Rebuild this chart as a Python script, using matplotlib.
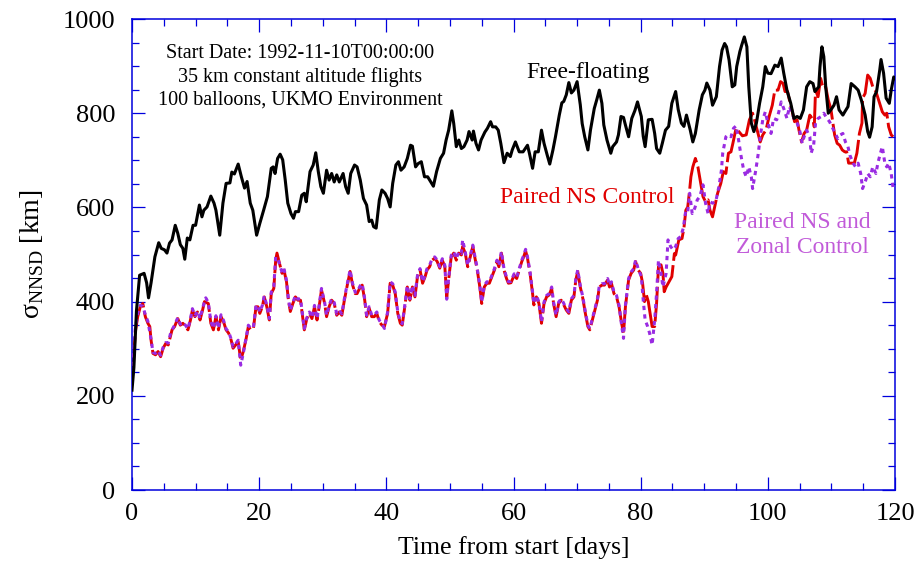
import numpy as np
import matplotlib
matplotlib.use('Agg')
import matplotlib.pyplot as plt
from matplotlib.ticker import MultipleLocator

# %% podaci (sigma NNSD u km, vreme u danima)

free_t = [0.0, 0.3, 0.7, 1.2, 1.9, 2.3, 2.6, 3.0, 3.6, 4.2, 4.6, 5.1, 5.5, 5.9, 6.3, 6.8, 7.2, 7.6, 8.0, 8.3,
          8.7, 9.1, 9.6, 10.0, 10.6, 11.0, 11.3, 11.8, 12.4, 12.9, 13.2, 13.8, 14.3, 14.8, 15.4, 15.7, 16.1, 16.7,
          17.2, 17.7, 18.1, 18.6, 19.0, 19.6, 20.1, 20.7, 21.3, 21.9, 22.2, 22.5, 22.9, 23.3, 23.7, 24.1, 24.5,
          25.0, 25.4, 25.7, 26.2, 26.7, 27.1, 27.4, 28.0, 28.5, 28.9, 29.3, 29.7, 30.1, 30.6, 31.0, 31.4, 31.8,
          32.2, 32.6, 33.2, 33.6, 34.0, 34.4, 35.0, 35.4, 35.9, 36.4, 36.9, 37.3, 37.7, 38.0, 38.4, 38.9, 39.3,
          39.8, 40.2, 40.6, 41.0, 41.5, 41.9, 42.3, 42.8, 43.3, 43.8, 44.1, 44.6, 45.0, 45.5, 46.0, 46.5, 47.0,
          47.4, 47.9, 48.5, 49.0, 49.4, 49.8, 50.3, 50.6, 51.0, 51.4, 51.8, 52.2, 52.7, 53.0, 53.5, 53.7, 54.1,
          54.5, 54.9, 55.5, 55.9, 56.4, 56.7, 57.2, 57.6, 58.0, 58.5, 59.0, 59.5, 59.8, 60.3, 60.9, 61.5, 62.2,
          62.5, 63.0, 63.4, 63.9, 64.4, 64.8, 65.3, 65.7, 66.2, 66.6, 67.2, 67.6, 67.9, 68.3, 68.7, 69.1, 69.5,
          70.0, 70.5, 70.8, 71.2, 71.7, 72.1, 72.7, 73.1, 73.5, 73.9, 74.2, 74.7, 75.3, 75.6, 76.2, 76.5, 76.9,
          77.3, 77.6, 78.1, 78.6, 79.1, 79.5, 80.1, 80.4, 80.7, 81.2, 81.8, 82.2, 82.5, 83.0, 83.4, 83.9, 84.4,
          84.9, 85.5, 85.9, 86.4, 86.8, 87.2, 87.8, 88.2, 88.6, 89.2, 89.7, 90.1, 90.4, 90.9, 91.3, 91.9, 92.4,
          92.8, 93.2, 93.5, 93.9, 94.4, 94.8, 95.1, 95.6, 95.9, 96.3, 96.7, 97.0, 97.4, 97.8, 98.2, 98.7, 99.2,
          99.6, 100.0, 100.5, 101.1, 101.6, 102.1, 102.5, 103.0, 103.6, 104.1, 104.6, 105.1, 105.6, 106.1,
          106.6, 107.1, 107.4, 108.0, 108.2, 108.5, 108.8, 109.1, 109.5, 109.9, 110.4, 110.8, 111.2, 111.8,
          112.1, 112.6, 113.1, 113.7, 114.2, 114.7, 115.3, 115.7, 116.0, 116.4, 116.7, 117.1, 117.6, 117.8,
          118.2, 118.6, 119.1, 119.4, 119.8, 120.0]
free_v = [212, 260, 380, 456, 460, 440, 408, 440, 495, 525, 513, 510, 503, 524, 531, 562, 545, 521, 513, 490,
          535, 531, 562, 562, 605, 580, 594, 601, 624, 609, 594, 541, 609, 651, 652, 675, 671, 692,
          665, 641, 655, 609, 594, 541, 566, 594, 623, 683, 686, 672, 704, 713, 701, 658, 609,
          587, 577, 591, 591, 626, 630, 612, 676, 690, 716, 676, 644, 630, 679, 658, 672, 654,
          669, 654, 672, 644, 630, 672, 690, 686, 658, 619, 605, 570, 573, 559, 556, 616, 637,
          630, 619, 601, 651, 690, 697, 679, 686, 704, 732, 730, 686, 693, 697, 665, 665, 654,
          645, 676, 704, 715, 743, 764, 805, 778, 729, 743, 725, 729, 743, 761, 743, 762, 736,
          722, 743, 760, 768, 782, 771, 771, 764, 736, 695, 715, 708, 722, 739, 718, 718, 732,
          715, 683, 718, 718, 764, 736, 711, 692, 722, 750, 796, 822, 825, 839, 865, 843, 849,
          867, 818, 778, 750, 722, 764, 810, 829, 849, 821, 775, 743, 715, 729, 739, 754, 793,
          791, 775, 750, 789, 806, 824, 793, 751, 729, 786, 787, 757, 725, 715, 736, 764, 772,
          821, 846, 808, 779, 772, 796, 764, 739, 757, 807, 839, 849, 864, 849, 817, 835, 899,
          934, 948, 941, 913, 856, 860, 899, 931, 945, 962, 941, 856, 779, 761, 779, 821, 856,
          899, 885, 884, 902, 899, 917, 885, 849, 821, 789, 793, 789, 807, 856,
          867, 863, 846, 856, 899, 941, 920, 856, 800, 807, 817, 835, 807, 796,
          803, 814, 863, 856, 849, 828, 796, 761, 749, 771, 835, 846, 892, 914,
          885, 832, 821, 849, 877, 874]

ns_t = [0.0, 0.2, 0.5, 0.9, 1.3, 1.7, 2.1, 2.5, 2.8, 3.0, 3.3, 3.7, 4.1, 4.5, 4.9, 5.3, 5.7, 6.1, 6.3, 6.7,
        7.2, 7.6, 8.0, 8.4, 8.8, 9.2, 9.5, 9.9, 10.3, 10.7, 11.1, 11.4, 12.0, 12.4, 12.8, 13.2, 13.6, 14.0,
        14.4, 14.8, 15.2, 15.6, 15.9, 16.3, 16.7, 17.1, 17.5, 17.9, 18.3, 18.7, 19.1, 19.5, 19.8, 20.1, 20.5,
        20.8, 21.2, 21.6, 21.9, 22.3, 22.6, 22.8, 23.2, 23.6, 23.9, 24.3, 24.6, 24.9, 25.3, 25.7, 26.1, 26.5,
        26.8, 27.1, 27.5, 27.9, 28.3, 28.7, 29.1, 29.4, 29.8, 30.3, 30.6, 31.0, 31.4, 31.8, 32.2, 32.6, 33.0,
        33.4, 33.8, 34.3, 34.7, 35.1, 35.4, 35.9, 36.2, 36.6, 36.9, 37.3, 37.7, 38.1, 38.5, 38.9, 39.3, 39.7,
        40.2, 40.6, 41.0, 41.4, 41.8, 42.2, 42.5, 42.9, 43.3, 43.7, 44.1, 44.5, 44.9, 45.3, 45.7, 46.1, 46.4,
        46.8, 47.2, 47.6, 48.0, 48.4, 48.8, 49.2, 49.5, 49.8, 50.2, 50.6, 51.0, 51.4, 51.8, 52.0, 52.4, 52.8,
        53.2, 53.6, 53.9, 54.3, 54.7, 55.0, 55.4, 55.8, 56.2, 56.6, 57.0, 57.4, 57.7, 58.1, 58.5, 58.9, 59.2,
        59.6, 60.1, 60.5, 60.9, 61.3, 61.6, 61.9, 62.2, 62.6, 63.0, 63.2, 63.6, 64.0, 64.4, 64.8, 65.2, 65.6,
        66.0, 66.3, 66.7, 67.1, 67.5, 67.8, 68.3, 68.7, 69.1, 69.5, 69.8, 70.1, 70.5, 70.9, 71.3, 71.7, 72.0,
        72.4, 72.8, 73.2, 73.5, 73.9, 74.3, 74.8, 75.1, 75.4, 75.8, 76.2, 76.6, 77.0, 77.3, 77.6, 78.1, 78.5,
        78.9, 79.2, 79.6, 80.0, 80.3, 80.6, 80.9, 81.2, 81.8, 82.2, 82.5, 82.8, 83.2, 83.5, 83.7, 84.0, 84.9,
        85.3, 85.5, 86.0, 86.5, 86.8, 87.1, 87.4, 87.7, 87.9, 88.2, 88.6, 89.0, 89.8, 90.2, 90.6, 90.9, 91.3,
        92.1, 92.6, 93.0, 93.4, 93.8, 94.2, 94.5, 95.0, 96.0, 96.6, 97.1, 97.6, 97.9, 98.8, 99.2, 99.7,
        100.2, 100.7, 101.1, 101.6, 102.0, 102.4, 102.7, 103.1, 103.5, 103.9, 104.2, 104.6, 104.9, 105.3,
        105.7, 106.1, 106.6, 107.1, 107.3, 107.5, 107.9, 108.3, 108.7, 109.1, 109.5, 109.9, 110.5, 110.9,
        111.3, 111.7, 112.1, 112.4, 112.7, 113.6, 114.0, 114.4, 114.8, 114.9, 115.3, 115.7, 116.1, 116.5,
        117.0, 118.0, 118.4, 118.7, 119.0, 119.4, 119.7]
ns_v = [250, 265, 333, 368, 389, 396, 368, 354, 347, 318, 290, 287, 294, 283, 301, 311, 308, 329, 340, 347,
        364, 350, 354, 347, 340, 361, 382, 368, 378, 361, 382, 400, 396, 354, 340, 368, 340, 368,
        357, 340, 333, 318, 301, 308, 315, 276, 294, 318, 347, 340, 343, 389, 389, 375, 389,
        410, 389, 361, 417, 428, 488, 503, 481, 460, 467, 442, 403, 379, 396, 410, 403, 403,
        371, 340, 364, 375, 364, 389, 361, 386, 425, 396, 368, 389, 403, 396, 371, 378, 371,
        403, 431, 464, 435, 417, 417, 431, 435, 403, 368, 386, 368, 368, 375, 357, 350, 347,
        375, 439, 435, 417, 375, 354, 350, 389, 431, 403, 431, 410, 453, 467, 439, 453, 467,
        474, 488, 492, 485, 471, 488, 474, 410, 446, 495, 503, 488, 503, 499, 517, 503, 474,
        495, 517, 495, 467, 431, 396, 431, 439, 439, 453, 467, 485, 474, 503, 467, 449, 439,
        440, 456, 449, 467, 485, 495, 508, 492, 460, 417, 393, 410, 396, 354, 396, 410, 414,
        428, 396, 368, 396, 403, 396, 382, 375, 403, 410, 446, 464, 431, 407, 375, 347, 340,
        361, 382, 403, 431, 435, 435, 446, 431, 439, 417, 410, 389, 354, 333, 389, 446, 460,
        467, 485, 467, 460, 439, 400, 414, 400, 347, 347, 396, 474, 478, 460, 421, 431, 453,
        502, 499, 531, 534, 556, 594, 601, 637, 665, 686, 704, 686, 623, 612, 616, 594, 580,
        630, 651, 676, 672, 715, 718, 736, 768, 752, 754, 786, 800, 786, 739, 754, 764,
        793, 817, 849, 849, 867, 863, 846, 846, 821, 800, 782, 786, 764, 739,
        757, 764, 796, 786, 771, 849, 835, 874, 853, 856, 828, 810, 754, 736,
        732, 722, 718, 718, 694, 694, 715, 757, 779, 832, 842, 881, 874, 856,
        846, 803, 796, 800, 771, 754, 750]

zonal_t = [0.0, 0.2, 0.5, 0.9, 1.3, 1.7, 2.1, 2.5, 3.0, 3.3, 3.7, 4.1, 4.5, 4.9, 5.3, 5.7, 6.1, 6.7,
           7.2, 7.6, 8.0, 8.4, 8.8, 9.2, 9.5, 9.9, 10.3, 10.7, 11.1, 11.6, 12.0, 12.4, 12.8, 13.2, 13.6, 14.0,
           14.4, 14.8, 15.2, 15.6, 15.9, 16.3, 16.7, 17.1, 17.5, 17.9, 18.3, 18.7, 19.1, 19.5, 19.8, 20.1, 20.5,
           20.8, 21.2, 21.6, 21.9, 22.3, 22.6, 23.0, 23.6, 23.9, 24.3, 24.6, 24.9, 25.3, 25.7, 26.1, 26.5,
           26.8, 27.1, 27.5, 27.9, 28.3, 28.7, 29.1, 29.4, 29.8, 30.3, 30.6, 31.0, 31.4, 31.8, 32.2, 32.6, 33.0,
           33.4, 33.8, 34.3, 34.7, 35.1, 35.4, 35.9, 36.2, 36.6, 36.9, 37.3, 37.7, 38.1, 38.5, 38.9, 39.3, 39.7,
           40.2, 40.6, 41.0, 41.4, 41.8, 42.2, 42.5, 42.9, 43.3, 43.7, 44.1, 44.5, 44.9, 45.3, 45.7, 46.1, 46.4,
           46.8, 47.2, 47.6, 48.0, 48.4, 48.8, 49.2, 49.5, 49.8, 50.2, 50.6, 51.0, 51.4, 51.8, 52.0, 52.4, 52.8,
           53.2, 53.6, 53.9, 54.3, 54.7, 55.0, 55.4, 55.8, 56.2, 56.6, 57.0, 57.4, 57.7, 58.1, 58.5, 58.9, 59.2,
           59.6, 60.1, 60.5, 60.9, 61.3, 61.6, 61.9, 62.2, 62.6, 63.0, 63.2, 63.6, 64.0, 64.4, 64.8, 65.2, 65.6,
           66.0, 66.3, 66.7, 67.1, 67.5, 67.8, 68.3, 68.7, 69.1, 69.5, 69.8, 70.1, 70.5, 70.9, 71.3, 71.7, 72.0,
           72.4, 72.8, 73.2, 73.5, 73.9, 74.3, 74.8, 75.1, 75.4, 75.8, 76.2, 76.6, 77.0, 77.3, 77.6, 78.1, 78.5,
           78.9, 79.2, 79.6, 80.1, 80.4, 80.7, 81.1, 81.4, 81.8, 82.2, 82.5, 82.8, 83.2, 83.5, 84.0, 84.3, 84.7,
           85.1, 85.5, 85.9, 86.3, 86.7, 87.1, 87.4, 87.7, 88.1, 88.5, 88.9, 89.3, 89.8, 90.2, 90.6, 90.9, 91.3,
           91.8, 92.3, 92.7, 92.9, 93.4, 93.7, 94.2, 94.6, 95.0, 95.4, 95.8, 96.2, 96.6, 97.0, 97.4, 97.6, 98.1,
           98.5, 98.8, 99.2, 99.6, 100.0, 100.5, 100.9, 101.4, 101.8, 102.1, 102.5, 103.0, 103.4, 103.8, 104.2,
           104.6, 105.0, 105.4, 105.7, 106.1, 106.6, 106.8, 107.2, 107.5, 107.9, 108.4, 108.8, 109.3, 109.7,
           110.2, 110.6, 111.0, 111.4, 111.8, 112.2, 112.6, 112.9, 113.4, 113.8, 114.2, 114.6, 114.9, 115.4,
           115.7, 116.1, 116.5, 117.0, 117.3, 117.7, 118.0, 118.4, 118.7, 119.0, 119.4, 119.7, 120.0]
zonal_v = [245, 275, 340, 375, 392, 390, 372, 358, 320, 292, 290, 296, 286, 303, 313, 312, 335, 350,
           366, 352, 356, 350, 342, 364, 385, 370, 380, 364, 386, 408, 398, 358, 343, 370, 343, 372,
           360, 342, 336, 320, 304, 310, 318, 265, 290, 320, 350, 343, 346, 392, 392, 378, 392,
           412, 392, 364, 420, 432, 495, 488, 462, 470, 445, 405, 382, 398, 413, 405, 406,
           374, 343, 366, 378, 366, 392, 364, 389, 428, 398, 371, 392, 406, 398, 374, 381, 374,
           406, 434, 467, 438, 420, 420, 434, 438, 406, 371, 389, 371, 371, 378, 360, 353, 343,
           378, 442, 438, 420, 378, 357, 353, 392, 434, 406, 434, 413, 456, 470, 442, 456, 470,
           477, 491, 495, 488, 474, 491, 477, 405, 449, 498, 506, 491, 506, 502, 531, 506, 477,
           498, 520, 498, 470, 434, 399, 434, 442, 442, 456, 470, 488, 477, 506, 470, 452, 442,
           443, 459, 452, 470, 488, 498, 511, 495, 463, 420, 396, 413, 399, 357, 399, 413, 417,
           431, 399, 371, 399, 406, 399, 385, 378, 406, 413, 449, 467, 434, 410, 378, 350, 343,
           364, 385, 406, 434, 438, 438, 449, 434, 442, 420, 413, 392, 350, 322, 392, 449, 463,
           470, 488, 470, 453, 403, 361, 347, 333, 308, 361, 418, 488, 460, 431, 460, 531, 517,
           510, 517, 534, 538, 556, 594, 591, 630, 587, 598, 616, 623, 648, 609, 587, 612, 609,
           612, 644, 679, 715, 750, 754, 750, 768, 773, 743, 708, 679, 665, 686, 665, 640, 679,
           715, 750, 786, 803, 779, 757, 789, 786, 807, 824, 810, 789, 814, 800, 786,
           779, 764, 736, 750, 764, 750, 715, 732, 779, 789, 793, 800, 789, 782,
           768, 757, 746, 754, 757, 739, 729, 711, 694, 686, 694, 672, 640, 658,
           672, 665, 686, 672, 694, 715, 729, 694, 686, 694, 672, 640, 640]

info_lines = ['Start Date: 1992-11-10T00:00:00',
              '35 km constant altitude flights',
              '100 balloons, UKMO Environment']

# %% stil

plt.rcParams['font.family'] = ['Liberation Serif', 'DejaVu Serif']
plt.rcParams['mathtext.fontset'] = 'custom'
plt.rcParams['mathtext.rm'] = 'Liberation Serif'

BLUE   = '#0000dd'
RED    = '#e00000'
VIOLET = '#9a2be2'
ORCHID = '#c15ad9'

# %% grafik

fig = plt.figure(figsize=(9.16, 5.76), dpi=100)
ax = fig.add_axes([0.1441, 0.1493, 0.8330, 0.8177])

ax.plot(ns_t, ns_v, color=RED, linewidth=2.1, linestyle=(0, (12, 1.5)), zorder=2)
ax.plot(zonal_t, zonal_v, color=VIOLET, linewidth=2.2, linestyle=(0, (1.4, 1.4)), zorder=3)
ax.plot(free_t, free_v, color='black', linewidth=2.2, zorder=4)

ax.set_xlim(0, 120)
ax.set_ylim(0, 1000)
ax.xaxis.set_major_locator(MultipleLocator(20))
ax.xaxis.set_minor_locator(MultipleLocator(5))
ax.yaxis.set_major_locator(MultipleLocator(200))
ax.yaxis.set_minor_locator(MultipleLocator(50))

for s in ax.spines.values():
    s.set_color(BLUE)
    s.set_linewidth(1.1)
ax.tick_params(which='both', direction='in', top=True, right=True, color=BLUE, width=0.9,
               labelsize=19, labelcolor='black')
ax.tick_params(which='major', length=9.5)
ax.tick_params(which='minor', length=4.8)
ax.tick_params(axis='x', which='major', pad=9)
ax.tick_params(axis='y', which='major', pad=12)

ax.set_xlabel('Time from start [days]', fontsize=18.5, labelpad=8)
ax.set_ylabel('σ$_{\\mathrm{NNSD}}$ [km]', fontsize=20, labelpad=12)

for i, line in enumerate(info_lines):
    ax.text(26.4, 926 - 49 * i, line, fontsize=14.5, ha='center', va='center', color='black')

ax.text(71.7, 887, 'Free-floating', fontsize=17, ha='center', va='center', color='black')
ax.text(71.6, 622, 'Paired NS Control', fontsize=17, ha='center', va='center', color=RED)
ax.text(105.4, 569, 'Paired NS and', fontsize=17, ha='center', va='center', color=ORCHID)
ax.text(105.4, 514, 'Zonal Control', fontsize=17, ha='center', va='center', color=ORCHID)

fig.savefig('out.png', dpi=100)
